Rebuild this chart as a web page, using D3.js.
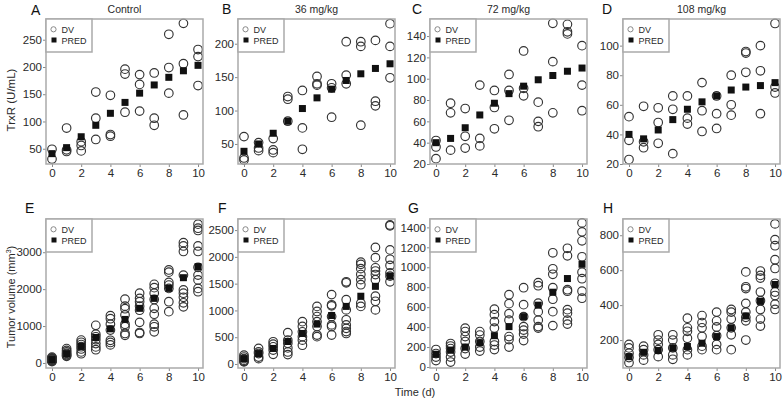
<!DOCTYPE html>
<html>
<head>
<meta charset="utf-8">
<script src="https://cdn.jsdelivr.net/npm/d3@7"></script>
<style>
  body { margin: 0; background: #fff; }
  svg { font-family: "Liberation Sans", Arial, sans-serif; }
</style>
</head>
<body>
<div id="chart"></div>
<script>
const days = [0, 1, 2, 3, 4, 5, 6, 7, 8, 9, 10];

// TrxR, top row
const dvA = [[49,31],[88,48,45],[63,56,46],[154,106,67],[148,76,73],[196,187,117],[186,168,119],[189,106,93],[260,199,152],[280,206,112],[232,219,166]];
const predA = [41,52,72,93,115,135,152,167,181,193,203];
const dvB = [[61,29,26],[44,40,52],[58,41,37],[121,117,84],[130,74,42],[151,140,138],[140,134,90],[203,153,140],[203,196,78],[205,114,107],[230,196,149]];
const predB = [39,50,66,84,103,119,132,145,155,163,170];
const dvC = [[42,36,25],[77,68,33],[72,46,35],[94,44,37],[89,73,53],[104,89,61],[126,91,84],[78,60,55],[152,116,68],[151,144,142],[131,94,70]];
const predC = [40,44,54,66,77,86,93,99,103,107,110];
const dvD = [[52,36,23],[59,35,31],[58,48,34],[66,57,27],[66,51,47],[75,56,42],[66,54,44],[80,60,53],[96,95,82],[100,83,54],[115,72,68]];
const predD = [40,37,43,50,57,62,66,70,72,73,75];

// tumor volume, bottom row
const dvE = [
  [160,140,120,100,80,60,50,40,70,110],
  [390,340,300,260,230,200,180],
  [620,560,500,440,380,300,250],
  [1020,780,710,630,525,435,360],
  [1280,1200,1050,890,615,555,490],
  [1730,1540,1470,1300,1050,980,800,750],
  [1890,1750,1660,1540,1430,1100,825,800],
  [2130,2040,1890,1720,1480,1320,1050,980,845],
  [2520,2460,2180,2110,2020,1660,1390],
  [3260,3170,3020,2380,1980,1890,1780,1630,1520],
  [3760,3650,3590,3170,3020,2590,2380,2250,2020,1930]
];
const predE = [90,250,450,690,925,1180,1480,1750,2020,2310,2610];
const dvF = [
  [165,130,100,70,50,40],
  [290,225,195,130,100],
  [415,370,320,260,180],
  [585,445,385,300,225,175],
  [790,700,600,510,445,350],
  [1075,980,885,790,700,540,510],
  [1295,1105,1085,885,730,700,540],
  [1535,1515,1200,1010,825,730,665,605,570],
  [1900,1860,1780,1670,1575,1480,1135,1075],
  [2175,1985,1795,1735,1670,1575,1265,1170,1010],
  [2595,2580,2130,1955,1840,1700,1640,1535]
];
const predF = [100,195,290,420,570,745,905,1075,1265,1450,1640];
const dvG = [
  [175,135,100,65],
  [235,210,185,150,100,50],
  [390,355,305,255,185,130],
  [355,320,255,200,160],
  [580,525,455,390,255,220,175],
  [725,635,535,470,305,275,200],
  [795,625,505,405,370,330,265],
  [845,815,640,555,470,405,390],
  [1145,985,930,795,680,555,415],
  [1190,1115,775,760,575,540,470,430],
  [1445,1355,1265,1105,950,885,760,690]
];
const predG = [128,170,200,243,314,405,505,620,750,887,1030];
const dvH = [
  [175,155,125,100,70],
  [165,145,115,85],
  [230,200,175,145,105],
  [230,200,155,115,90],
  [325,270,250,210,145,115],
  [340,300,270,220,165,145],
  [360,310,275,225,175,145],
  [375,360,320,270,230,145],
  [590,505,495,410,360,330,310,200],
  [595,570,555,475,425,375,320,280],
  [865,775,740,660,610,525,475,455,405,375]
];
const predH = [105,130,140,153,163,182,220,270,338,422,518];

const titles = ["Control", "36 mg/kg", "72 mg/kg", "108 mg/kg"];
const xTicks = [0, 2, 4, 6, 8, 10];

const w = 784, h = 400;
const colLeft = [46, 238, 430, 623];
const plotW = 157;
const rows = [{ top: 19, bottom: 164 }, { top: 219, bottom: 368 }];

const panels = [
  { letter: "A", row: 0, col: 0, dv: dvA, pred: predA, y: [22, 288], ticks: [50,100,150,200,250], lx: 15, ly: 15 },
  { letter: "B", row: 0, col: 1, dv: dvB, pred: predB, y: [20, 237], ticks: [50,100,150,200], lx: 16, ly: 14 },
  { letter: "C", row: 0, col: 2, dv: dvC, pred: predC, y: [20, 156], ticks: [20,40,60,80,100,120,140], lx: 18, ly: 14 },
  { letter: "D", row: 0, col: 3, dv: dvD, pred: predD, y: [20, 118], ticks: [20,40,60,80,100], lx: 21, ly: 14 },
  { letter: "E", row: 1, col: 0, dv: dvE, pred: predE, y: [-136, 3900], ticks: [0,1000,2000,3000], lx: 21, ly: 213 },
  { letter: "F", row: 1, col: 1, dv: dvF, pred: predF, y: [-75, 2707], ticks: [0,500,1000,1500,2000,2500], lx: 20, ly: 213 },
  { letter: "G", row: 1, col: 2, dv: dvG, pred: predG, y: [-10, 1484], ticks: [0,200,400,600,800,1000,1200,1400], lx: 22, ly: 213 },
  { letter: "H", row: 1, col: 3, dv: dvH, pred: predH, y: [40, 893], ticks: [200,400,600,800], lx: 20, ly: 213 }
];

const svg = d3.select("#chart").append("svg")
  .attr("width", w)
  .attr("height", h);

const textCol = "#2a2a2a";

panels.forEach((p) => {
  const left = colLeft[p.col];
  const right = left + plotW;
  const top = rows[p.row].top;
  const bottom = rows[p.row].bottom;

  const x = d3.scaleLinear().domain([-0.41, 10.34]).range([left, right]);
  const y = d3.scaleLinear().domain(p.y).range([bottom, top]);

  const g = svg.append("g");

  // axes
  const xAxis = g.append("g")
    .attr("transform", `translate(0,${bottom})`)
    .call(d3.axisBottom(x).tickValues(xTicks).tickSize(3).tickPadding(2));
  const yAxis = g.append("g")
    .attr("transform", `translate(${left},0)`)
    .call(d3.axisLeft(y).tickValues(p.ticks).tickSize(3).tickPadding(1).tickFormat(d3.format("d")));
  [xAxis, yAxis].forEach((a) => {
    a.select(".domain").remove();
    a.selectAll(".tick line").attr("stroke", "#888");
    a.selectAll(".tick text")
      .attr("fill", textCol)
      .attr("font-size", 11.5)
      .attr("font-family", "Liberation Sans, Arial, sans-serif");
  });

  // dv circles
  const pts = [];
  p.dv.forEach((vals, i) => vals.forEach((v) => pts.push({ t: days[i], v })));
  g.selectAll("circle.dv")
    .data(pts)
    .enter()
    .append("circle")
    .attr("class", "dv")
    .attr("cx", (d) => x(d.t))
    .attr("cy", (d) => y(d.v))
    .attr("r", 4.3)
    .attr("fill", "none")
    .attr("stroke", "#333")
    .attr("stroke-width", 1.15);

  // pred squares
  g.selectAll("rect.pred")
    .data(p.pred)
    .enter()
    .append("rect")
    .attr("class", "pred")
    .attr("x", (d, i) => x(days[i]) - 3.5)
    .attr("y", (d) => y(d) - 3.5)
    .attr("width", 7)
    .attr("height", 7)
    .attr("fill", "#111");

  // frame
  g.append("rect")
    .attr("x", left)
    .attr("y", top)
    .attr("width", plotW)
    .attr("height", bottom - top)
    .attr("fill", "none")
    .attr("stroke", "#aaa")
    .attr("stroke-width", 1.5);

  // legend
  const lg = g.append("g").attr("transform", `translate(${left},${top})`);
  lg.append("rect")
    .attr("width", 46)
    .attr("height", 33)
    .attr("fill", "#fff")
    .attr("stroke", "#aaa")
    .attr("stroke-width", 1.5);
  lg.append("circle")
    .attr("cx", 7.5).attr("cy", 10.3).attr("r", 2.6)
    .attr("fill", "none").attr("stroke", "#888").attr("stroke-width", 1);
  lg.append("rect")
    .attr("x", 5.5).attr("y", 18.5).attr("width", 5).attr("height", 5)
    .attr("fill", "#111");
  lg.append("text").attr("x", 15.5).attr("y", 13.5)
    .attr("font-size", 9).attr("fill", textCol).text("DV");
  lg.append("text").attr("x", 15.5).attr("y", 24.5)
    .attr("font-size", 9).attr("fill", textCol).text("PRED");

  // panel letter
  g.append("text")
    .attr("x", left - p.lx)
    .attr("y", p.ly)
    .attr("font-size", 14)
    .attr("fill", "#111")
    .text(p.letter);

  if (p.row === 0) {
    g.append("text")
      .attr("x", (left + right) / 2)
      .attr("y", 13)
      .attr("text-anchor", "middle")
      .attr("font-size", 10.5)
      .attr("fill", textCol)
      .text(titles[p.col]);
  }
});

// axis titles
svg.append("text")
  .attr("transform", "translate(15,100) rotate(-90)")
  .attr("text-anchor", "middle")
  .attr("font-size", 11.5)
  .attr("fill", textCol)
  .text("TrxR (U/mL)");

const tv = svg.append("text")
  .attr("transform", "translate(15,297) rotate(-90)")
  .attr("text-anchor", "middle")
  .attr("font-size", 11)
  .attr("fill", textCol);
tv.append("tspan").text("Tumor volume (mm");
tv.append("tspan").attr("font-size", 7).attr("dy", -4).text("3");
tv.append("tspan").attr("dy", 4).text(")");

svg.append("text")
  .attr("x", 415)
  .attr("y", 396)
  .attr("text-anchor", "middle")
  .attr("font-size", 11)
  .attr("fill", textCol)
  .text("Time (d)");
</script>
</body>
</html>
